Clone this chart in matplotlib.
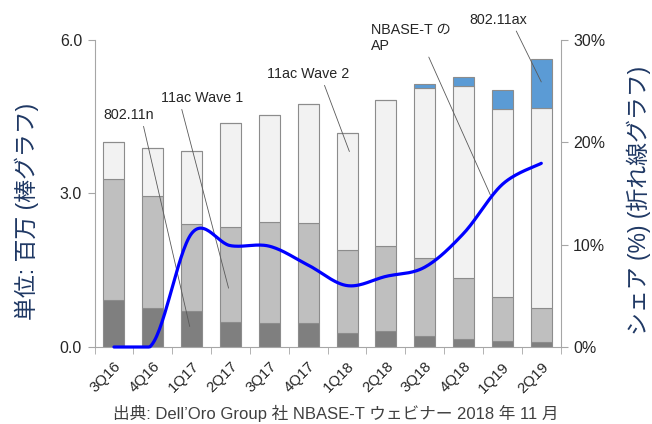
import numpy as np
import matplotlib
matplotlib.use("Agg")
import matplotlib.pyplot as plt
from matplotlib.ticker import FuncFormatter, FixedLocator

plt.rcParams['font.family'] = ['Liberation Sans', 'Noto Sans CJK JP', 'DejaVu Sans']

# 四半期ごとの出荷台数 (百万台)
quarters = ['3Q16', '4Q16', '1Q17', '2Q17', '3Q17', '4Q17',
            '1Q18', '2Q18', '3Q18', '4Q18', '1Q19', '2Q19']
n_11n = [0.92, 0.77, 0.70, 0.49, 0.475, 0.46, 0.28, 0.31, 0.215, 0.15, 0.117, 0.10]
ac_wave1 = [2.37, 2.18, 1.70, 1.86, 1.975, 1.97, 1.62, 1.66, 1.515, 1.20, 0.863, 0.66]
ac_wave2 = [0.71, 0.93, 1.44, 2.03, 2.09, 2.31, 2.28, 2.85, 3.33, 3.75, 3.68, 3.92]
ax_11 = [0.0, 0.0, 0.0, 0.0, 0.0, 0.0, 0.0, 0.0, 0.08, 0.17, 0.36, 0.95]

# NBASE-T 対応 AP のシェア (%)
nbase_share = [0.0, 0.36, 11.1, 9.9, 9.85, 8.0, 6.0, 6.9, 7.8, 11.1, 15.9, 17.95]

seg_colors = ['#7f7f7f', '#bfbfbf', '#f2f2f2', '#5b9bd5']
edge = '#8c8c8c'
label_color = '#1f3864'
tick_color = '#262626'


def smooth(x, y, steps=30):
    # Catmull-Rom 曲線 (Excel の「スムージング」相当)
    x = np.asarray(x, float)
    y = np.asarray(y, float)
    px = np.concatenate([[x[0]], x, [x[-1]]])
    py = np.concatenate([[y[0]], y, [y[-1]]])
    xs, ys = [], []
    t = np.linspace(0, 1, steps)
    for i in range(1, len(px) - 2):
        for arr, out in ((px, xs), (py, ys)):
            p0, p1, p2, p3 = arr[i - 1], arr[i], arr[i + 1], arr[i + 2]
            m1 = (p2 - p0) / 2
            m2 = (p3 - p1) / 2
            h = ((2 * t**3 - 3 * t**2 + 1) * p1 + (t**3 - 2 * t**2 + t) * m1
                 + (-2 * t**3 + 3 * t**2) * p2 + (t**3 - t**2) * m2)
            out.extend(h)
    return np.array(xs), np.array(ys)


fig = plt.figure(figsize=(6.52, 4.24), dpi=100)
ax = fig.add_axes([0.145, 0.1816, 0.715, 0.7241])
x = np.arange(len(quarters))

bottom = np.zeros(len(quarters))
for vals, col in zip([n_11n, ac_wave1, ac_wave2, ax_11], seg_colors):
    ax.bar(x, vals, width=0.54, bottom=bottom, color=col, edgecolor=edge,
           linewidth=0.8, zorder=2)
    bottom += np.array(vals)

ax.set_xlim(-0.5, len(quarters) - 0.5)
ax.set_ylim(0, 6)
ax.set_yticks([0, 3, 6])
ax.yaxis.set_major_formatter(FuncFormatter(lambda v, p: f'{v:.1f}'))
ax.set_xticks(x)
ax.set_xticklabels(quarters, rotation=45, ha='right', rotation_mode='anchor',
                   fontsize=10.8, color=tick_color)
ax.xaxis.set_minor_locator(FixedLocator(np.arange(-0.5, len(quarters), 1)))
ax.tick_params(axis='x', which='major', length=0, pad=9)
ax.tick_params(axis='x', which='minor', length=5, color='#a6a6a6', direction='out')
ax.tick_params(axis='y', length=5, color='#a6a6a6', labelsize=11.5,
               labelcolor=tick_color, pad=4)

for s in ['top', 'right']:
    ax.spines[s].set_visible(False)
for s in ['left', 'bottom']:
    ax.spines[s].set_color('#a6a6a6')

ax.set_ylabel('単位: 百万 (棒グラフ)', fontsize=16.5, color=label_color)
ax.yaxis.label.set_va('center')
ax.yaxis.set_label_coords(-0.145, 0.443)

ax2 = ax.twinx()
ax2.set_ylim(0, 30)
ax2.set_yticks([0, 10, 20, 30])
ax2.yaxis.set_major_formatter(FuncFormatter(lambda v, p: f'{v:.0f}%'))
ax2.tick_params(axis='y', length=5, color='#a6a6a6', labelsize=11.5,
                labelcolor=tick_color, pad=4)
for s in ['top', 'left', 'bottom']:
    ax2.spines[s].set_visible(False)
ax2.spines['right'].set_color('#a6a6a6')
ax2.set_ylabel('シェア (%) (折れ線グラフ)', fontsize=16.5, color=label_color,
               rotation=90)
ax2.yaxis.label.set_va('center')
ax2.yaxis.set_label_coords(1.168, 0.476)

sx, sy = smooth(x, nbase_share)
ax2.plot(sx, np.maximum(sy, 0), color='#0000ff', linewidth=2.3, zorder=3,
         solid_capstyle='round', clip_on=False)

# 注記
arrow = dict(arrowstyle='-', color='#595959', linewidth=0.6, shrinkA=1, shrinkB=0)
notes = [
    ('802.11n', (1.95, 0.40), (-0.28, 4.53), (0.78, 0.0)),
    ('11ac Wave 1', (2.95, 1.15), (1.21, 4.86), (0.24, 0.0)),
    ('11ac Wave 2', (6.06, 3.82), (3.94, 5.33), (0.68, 0.0)),
    ('NBASE-T の\nAP', (9.69, 2.97), (6.62, 6.04), (0.70, 0.0)),
    ('802.11ax', (11.0, 5.18), (9.16, 6.39), (0.77, 0.0)),
]
for txt, xy, xyt, rel in notes:
    a = dict(arrow)
    a['relpos'] = rel
    ax.annotate(txt, xy=xy, xytext=xyt, textcoords='data', ha='left', va='center',
                fontsize=10.3, color='#262626', arrowprops=a, annotation_clip=False,
                linespacing=1.2, zorder=5)

fig.text(0.515, 0.026, '出典: Dell’Oro Group 社 NBASE-T ウェビナー 2018 年 11 月',
         ha='center', va='center', fontsize=12, color='#404040')

fig.savefig('out.png', dpi=100)
